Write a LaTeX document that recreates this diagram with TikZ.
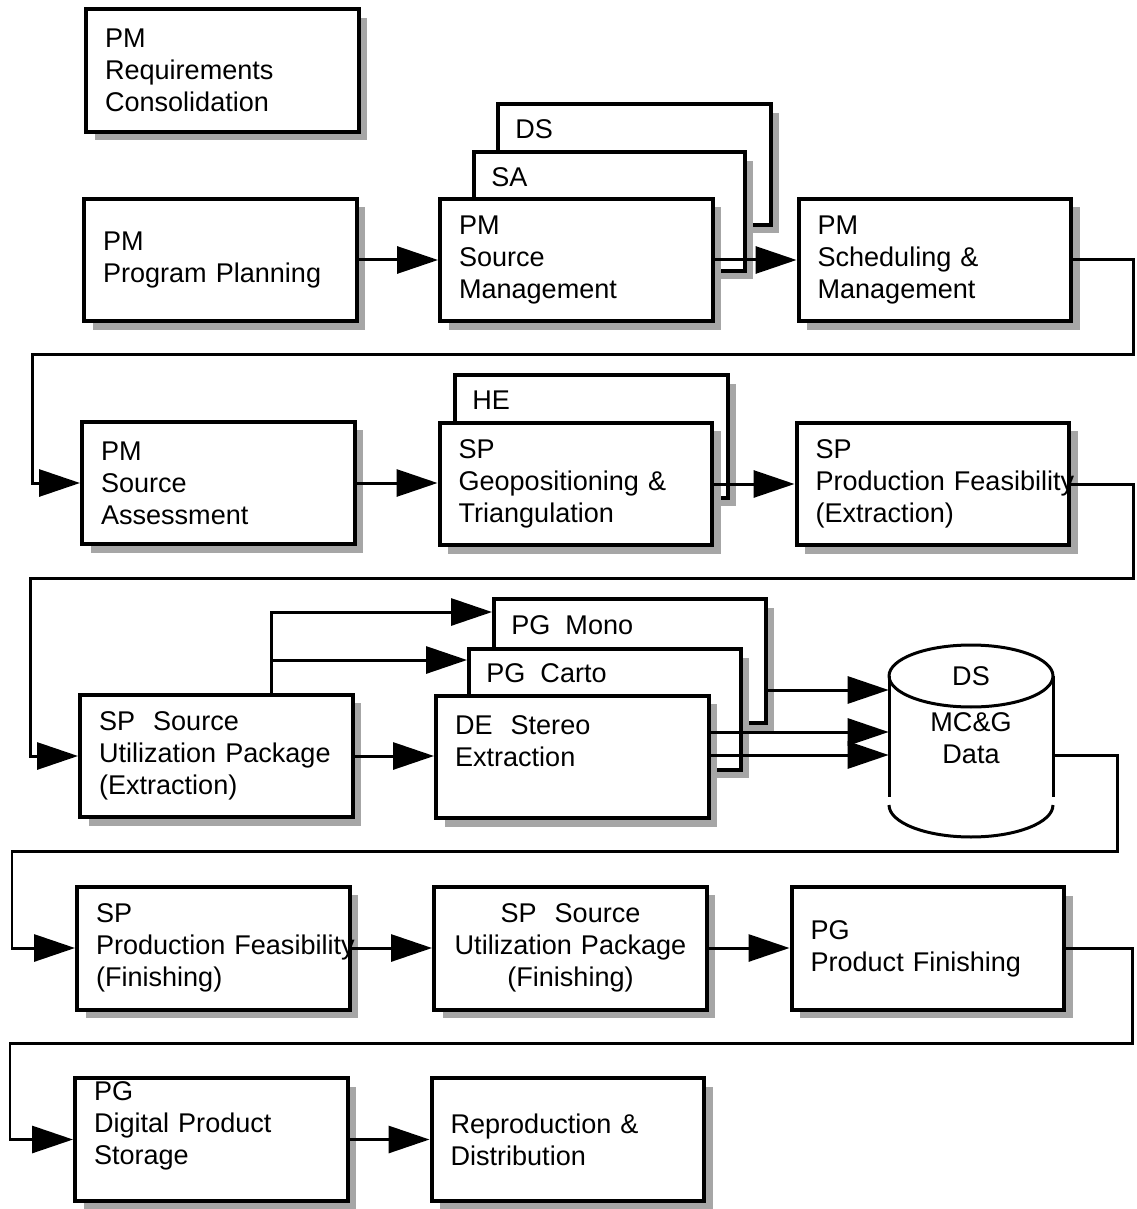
\documentclass[tikz,border=0pt]{standalone}
\usepackage{fontspec}
\setmainfont{Liberation Sans}
\usetikzlibrary{arrows.meta,shadows}
\begin{document}
\begin{tikzpicture}[x=0.02cm,y=-0.02cm,
  txt/.style={font=\fontsize{15.4}{18.2}\selectfont},
  shadowed/.style={drop shadow={shadow xshift=0.17cm,shadow yshift=-0.17cm,fill=black!35,opacity=1}},
  procbox/.style={txt,draw,line width=0.08cm,fill=white,shadowed,text width=4.7cm,
    inner xsep=0.38cm,inner ysep=0pt,minimum height=2.46cm,align=left},
  tabbox/.style={draw,line width=0.08cm,fill=white,shadowed,inner sep=0pt},
  tablbl/.style={txt,anchor=west,inner sep=0pt},
  arr/.style={line width=0.06cm,-{Triangle[length=0.82cm,width=0.54cm]}},
  wire/.style={line width=0.06cm},
]
\fill[white] (0,0) rectangle (1136,1209);
\useasboundingbox (0,0) rectangle (1136,1209);

% ---- row 1
\node[procbox] (req) at (222.5,70.5) {PM\\Requirements\\Consolidation};
\node[procbox] (pp) at (220.5,260) {PM\\Program Planning};

\node[tabbox,minimum width=5.46cm,minimum height=2.42cm] (ds) at (634.5,164.5) {};
\node[tablbl] (dsL) at ([xshift=0.38cm,yshift=-0.54cm]ds.north west) {DS};
\node[tabbox,minimum width=5.42cm,minimum height=2.38cm] (sa) at (609.5,211.5) {};
\node[tablbl] (saL) at ([xshift=0.38cm,yshift=-0.54cm]sa.north west) {SA};
\node[procbox] (sm) at (576.5,260) {PM\\Source\\Management};

\node[procbox] (sch) at (935,260) {PM\\Scheduling \&\\Management};

% ---- row 2
\node[procbox] (sas) at (218.5,483) {PM\\Source\\Assessment};
\node[tabbox,minimum width=5.46cm,minimum height=2.46cm] (he) at (591.5,436.5) {};
\node[tablbl] (heL) at ([xshift=0.38cm,yshift=-0.54cm]he.north west) {HE};
\node[procbox] (geo) at (576,484) {SP\\Geopositioning \&\\Triangulation};
\node[procbox] (pfe) at (933,484) {SP\\\mbox{Production Feasibility}\\(Extraction)};

% ---- row 3
\node[procbox] (sue) at (216.5,756) {SP~~Source\\Utilization Package\\(Extraction)};
\node[tabbox,minimum width=5.44cm,minimum height=2.48cm] (mono) at (630,661) {};
\node[tablbl] (monoL) at ([xshift=0.38cm,yshift=-0.56cm]mono.north west) {PG~~Mono};
\node[tabbox,minimum width=5.44cm,minimum height=2.42cm] (carto) at (605,709.5) {};
\node[tablbl] (cartoL) at ([xshift=0.38cm,yshift=-0.52cm]carto.north west) {PG~~Carto};
\node[procbox] (de) at (572.5,757) {DE~~Stereo\\Extraction\\\mbox{}};

% data store cylinder
\node[inner sep=0pt,minimum width=3.28cm,minimum height=2.58cm] (db) at (971,740.5) {};
\draw[wire] (971,676) ellipse [x radius=1.64cm,y radius=0.62cm];
\draw[wire] (889,676) -- (889,797) (1053,676) -- (1053,797);
\draw[wire] (889,805) arc[start angle=180,end angle=360,x radius=1.64cm,y radius=0.64cm];
\node[txt] (dbTop) at (971,676) {DS};
\node[txt,align=center] (dbBody) at (971,738) {MC\&G\\Data};

% ---- row 4
\node[procbox] (pff) at (213.5,948) {SP\\\mbox{Production Feasibility}\\(Finishing)};
\node[procbox,align=center] (suf) at (570.5,948) {SP~~Source\\Utilization Package\\(Finishing)};
\node[procbox] (pgf) at (928,948.5) {PG\\Product Finishing};

% ---- row 5
\node[procbox] (dps) at (211.5,1139.5) {PG\\Digital Product\\Storage\\\mbox{}};
\node[procbox] (rep) at (568,1139.5) {Reproduction \&\\Distribution};

% ---- connectors
\draw[arr] (pp.east) -- (sm.west);
\draw[arr] (sm.east) -- (sch.west);
\draw[arr] (sch.east) -| (1133,354) -- (32,354) |- (sas.west);
\draw[arr] (sas.east) -- (sas.east -| geo.west);
\draw[arr] (geo.east) -- (geo.east -| pfe.west);
\draw[arr] (pfe.east) -| (1133,578) -- (30,578) |- (sue.west);
\draw[arr] (sue.east) -- (sue.east -| de.west);

\coordinate (fork) at ([xshift=1.11cm]sue.north);
\coordinate (monoIn) at ([yshift=0.98cm]mono.west);
\coordinate (cartoIn) at ([yshift=0.99cm]carto.west);
\draw[arr] (fork) |- (monoIn);
\draw[arr] (fork |- cartoIn) -- (cartoIn);

\coordinate (monoOut) at ([yshift=-0.58cm]mono.east);
\coordinate (deOutA) at ([yshift=0.5cm]de.east);
\coordinate (deOutB) at ([yshift=0.04cm]de.east);
\draw[arr] (monoOut) -- (monoOut -| db.west);
\draw[arr] (deOutA) -- (deOutA -| db.west);
\draw[arr] (deOutB) -- (deOutB -| db.west);

\coordinate (dbOut) at ([yshift=-0.3cm]db.east);
\draw[arr] (dbOut) -| (1117,851) -- (12,851) |- (pff.west);
\draw[arr] (pff.east) -- (pff.east -| suf.west);
\draw[arr] (suf.east) -- (suf.east -| pgf.west);
\draw[arr] (pgf.east) -| (1132,1043) -- (10,1043) |- (dps.west);
\draw[arr] (dps.east) -- (dps.east -| rep.west);
\end{tikzpicture}
\end{document}
